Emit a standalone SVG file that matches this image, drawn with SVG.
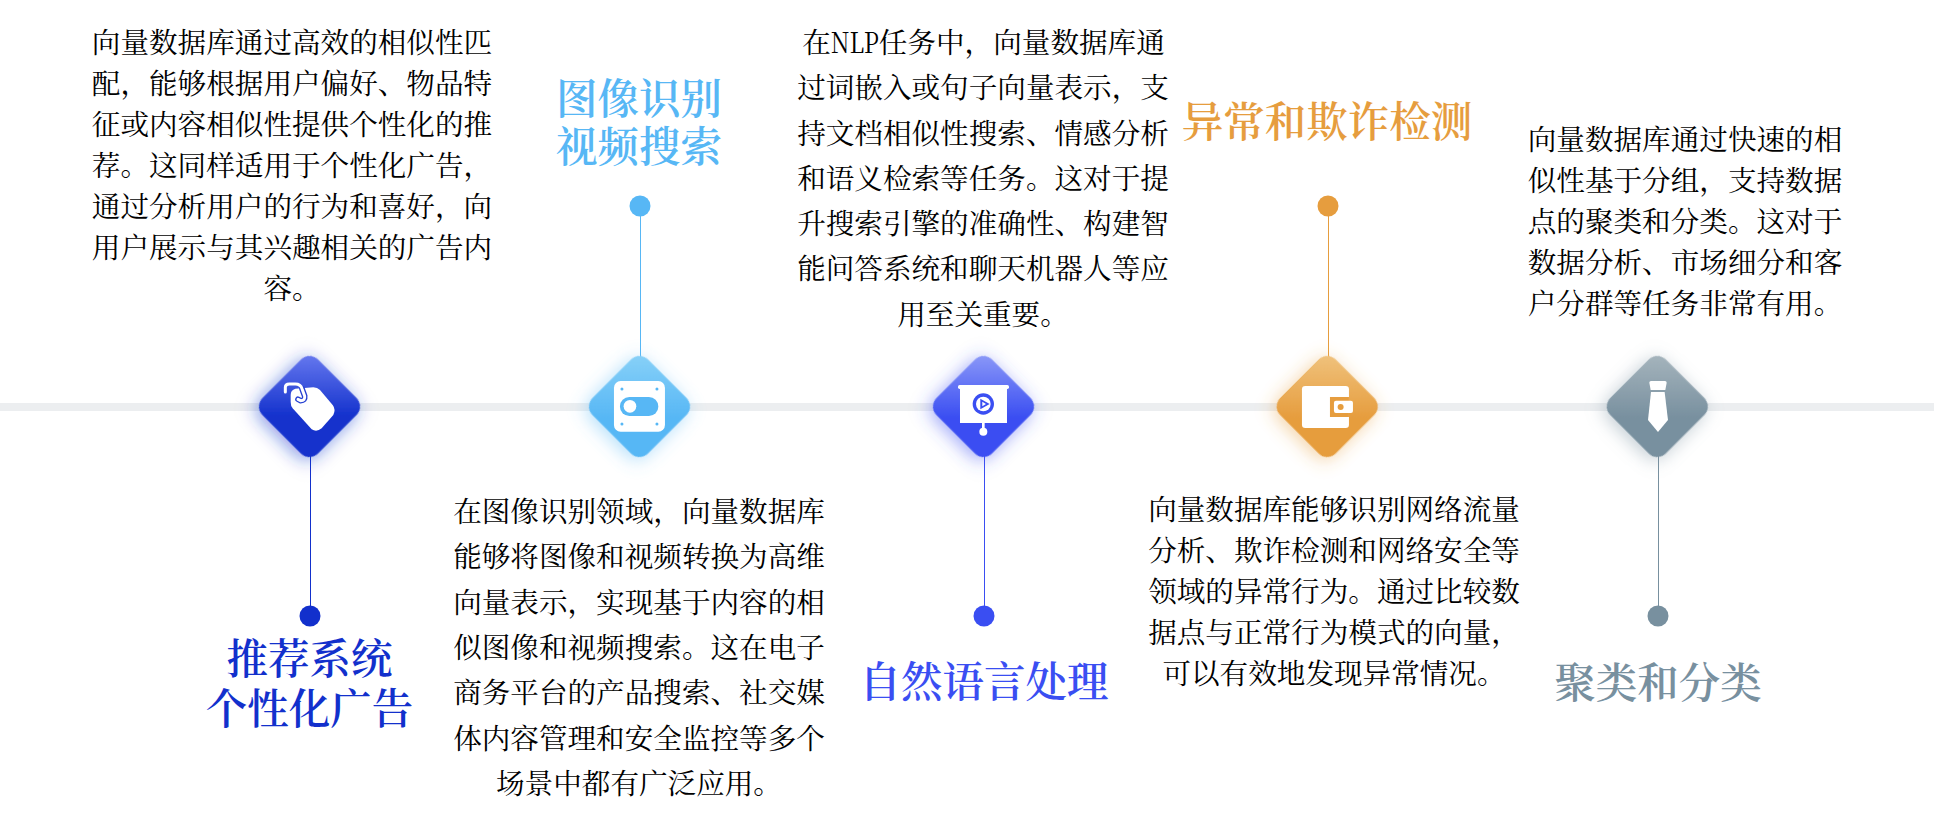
<svg xmlns="http://www.w3.org/2000/svg" width="1934" height="816" viewBox="0 0 1934 816">
<style>
.b{font-family:"Noto Serif CJK SC","Source Han Serif SC","Liberation Serif","Noto Sans CJK SC",serif;font-size:28.6px;text-anchor:middle;fill:#000}
.t{font-family:"Noto Serif CJK SC","Source Han Serif SC","Liberation Serif","Noto Sans CJK SC",serif;font-size:41.5px;font-weight:600;text-anchor:middle}
.w{fill:#fff}
.c1{fill:#1230cc}.c2{fill:#57b7f5}.c3{fill:#3a4ef2}.c4{fill:#e69d3e}.c5{fill:#78909f}
.l{stroke-width:1;fill:none}
</style>
<defs>
<linearGradient id="g1" x1="0" y1="0" x2="1" y2="1"><stop offset="0" stop-color="#6a7cf0"/><stop offset=".6" stop-color="#1230cc"/></linearGradient>
<linearGradient id="g2" x1="0" y1="0" x2="1" y2="1"><stop offset="0" stop-color="#8ad2f8"/><stop offset=".6" stop-color="#57b7f5"/></linearGradient>
<linearGradient id="g3" x1="0" y1="0" x2="1" y2="1"><stop offset="0" stop-color="#8f9cf8"/><stop offset=".6" stop-color="#3a4ef2"/></linearGradient>
<linearGradient id="g4" x1="0" y1="0" x2="1" y2="1"><stop offset="0" stop-color="#f0c480"/><stop offset=".6" stop-color="#e69d3e"/></linearGradient>
<linearGradient id="g5" x1="0" y1="0" x2="1" y2="1"><stop offset="0" stop-color="#a8b6be"/><stop offset=".6" stop-color="#78909f"/></linearGradient>
<filter id="f1" x="-60%" y="-60%" width="220%" height="220%"><feDropShadow dx="0" dy="4" stdDeviation="9" flood-color="#1230cc" flood-opacity=".5"/></filter>
<filter id="f2" x="-60%" y="-60%" width="220%" height="220%"><feDropShadow dx="0" dy="4" stdDeviation="9" flood-color="#57b7f5" flood-opacity=".45"/></filter>
<filter id="f3" x="-60%" y="-60%" width="220%" height="220%"><feDropShadow dx="0" dy="4" stdDeviation="9" flood-color="#3a4ef2" flood-opacity=".5"/></filter>
<filter id="f4" x="-60%" y="-60%" width="220%" height="220%"><feDropShadow dx="0" dy="4" stdDeviation="9" flood-color="#e69d3e" flood-opacity=".45"/></filter>
<filter id="f5" x="-60%" y="-60%" width="220%" height="220%"><feDropShadow dx="0" dy="4" stdDeviation="9" flood-color="#78909f" flood-opacity=".45"/></filter>
</defs>
<rect width="1934" height="816" fill="#fff"/>
<g id="connectors">
<rect x="0" y="403" width="1934" height="8" fill="#eceef0"/>
<line class="l" x1="310.5" y1="450" x2="310.5" y2="615" stroke="#1230cc"/>
<line class="l" x1="640.5" y1="206" x2="640.5" y2="362" stroke="#57b7f5"/>
<line class="l" x1="984.5" y1="450" x2="984.5" y2="615" stroke="#3a4ef2"/>
<line class="l" x1="1328.5" y1="206" x2="1328.5" y2="362" stroke="#e69d3e"/>
<line class="l" x1="1658.5" y1="450" x2="1658.5" y2="615" stroke="#78909f"/>
</g>
<g id="node-1">
<rect x="270.3" y="367.3" width="78.4" height="78.4" rx="12" fill="url(#g1)" filter="url(#f1)" transform="rotate(45 309.5 406.5)"/>
<g transform="translate(270 370) scale(.3333)">
<path class="w" d="M62 95L62 75Q62 60 76 56L130 52Q142 52 150 60L188 105Q198 118 190 135L155 175Q140 188 125 178L68 115Q62 108 62 95Z"/>
<path d="M96 56L104 78Q106 92 92 92L84 88" stroke="#2540d2" stroke-width="17" stroke-linecap="round" fill="none"/>
<path d="M46 66V52Q46 42 58 42H76Q92 42 96 56L104 78Q106 92 92 92L84 88" stroke="#fff" stroke-width="9" stroke-linecap="round" fill="none"/>
</g>
<circle class="c1" cx="310" cy="616" r="10.5"/>
<text class="t c1"><tspan x="309.5" y="674">推荐系统</tspan><tspan x="309.5" y="724">个性化广告</tspan></text>
<text class="b"><tspan x="292" y="53">向量数据库通过高效的相似性匹</tspan><tspan x="292" y="94">配，能够根据用户偏好、物品特</tspan><tspan x="292" y="135">征或内容相似性提供个性化的推</tspan><tspan x="292" y="176">荐。这同样适用于个性化广告，</tspan><tspan x="292" y="217">通过分析用户的行为和喜好，向</tspan><tspan x="292" y="258">用户展示与其兴趣相关的广告内</tspan><tspan x="292" y="299">容。</tspan></text>
</g>
<g id="node-2">
<rect x="600.3" y="367.3" width="78.4" height="78.4" rx="12" fill="url(#g2)" filter="url(#f2)" transform="rotate(45 639.5 406.5)"/>
<g transform="translate(230 330) scale(.3333)">
<rect class="w" x="1152" y="153" width="153" height="152" rx="20"/>
<g class="c2"><circle cx="1176" cy="177" r="4.5"/><circle cx="1281" cy="177" r="4.5"/><circle cx="1176" cy="282" r="4.5"/><circle cx="1281" cy="282" r="4.5"/><rect x="1170" y="201" width="115" height="57" rx="28"/></g>
<circle class="w" cx="1200" cy="229" r="19"/>
</g>
<circle class="c2" cx="640" cy="206" r="10.5"/>
<text class="t c2"><tspan x="639" y="114">图像识别</tspan><tspan x="639" y="162">视频搜索</tspan></text>
<text class="b"><tspan x="639" y="522">在图像识别领域，向量数据库</tspan><tspan x="639" y="567">能够将图像和视频转换为高维</tspan><tspan x="639" y="613">向量表示，实现基于内容的相</tspan><tspan x="639" y="658">似图像和视频搜索。这在电子</tspan><tspan x="639" y="703">商务平台的产品搜索、社交媒</tspan><tspan x="639" y="749">体内容管理和安全监控等多个</tspan><tspan x="639" y="794">场景中都有广泛应用。</tspan></text>
</g>
<g id="node-3">
<rect x="944.3" y="367.3" width="78.4" height="78.4" rx="12" fill="url(#g3)" filter="url(#f3)" transform="rotate(45 983.5 406.5)"/>
<g transform="translate(900 330) scale(.3333)">
<rect class="w" x="174" y="165" width="153" height="12" rx="5"/>
<rect class="w" x="180" y="170" width="141" height="109"/>
<rect class="w" x="246" y="279" width="8" height="24"/>
<circle class="w" cx="250" cy="305" r="12"/>
<circle class="c3" cx="250" cy="222" r="32"/>
<circle class="w" cx="250" cy="222" r="22"/>
<path class="c3" d="M241 206L269 222L241 238Z"/>
<path class="w" d="M247 215L258 222L247 229Z"/>
</g>
<circle class="c3" cx="984" cy="616" r="10.5"/>
<text class="t c3"><tspan x="984" y="697">自然语言处理</tspan></text>
<text class="b"><tspan x="983.5" y="53">在<tspan textLength="48" lengthAdjust="spacingAndGlyphs">NLP</tspan>任务中，向量数据库通</tspan><tspan x="983" y="98">过词嵌入或句子向量表示，支</tspan><tspan x="983" y="144">持文档相似性搜索、情感分析</tspan><tspan x="983" y="189">和语义检索等任务。这对于提</tspan><tspan x="983" y="234">升搜索引擎的准确性、构建智</tspan><tspan x="983" y="279">能问答系统和聊天机器人等应</tspan><tspan x="983" y="325">用至关重要。</tspan></text>
</g>
<g id="node-4">
<rect x="1288" y="367.3" width="78.4" height="78.4" rx="12" fill="url(#g4)" filter="url(#f4)" transform="rotate(45 1327.2 406.5)"/>
<g transform="translate(900 330) scale(.3333)">
<rect class="w" x="1206" y="168" width="141" height="126" rx="10"/>
<rect class="c4" x="1290" y="201" width="57" height="60"/>
<rect class="w" x="1302" y="212" width="57" height="37" rx="6"/>
<circle class="c4" cx="1322" cy="231" r="9"/>
</g>
<circle class="c4" cx="1328" cy="206" r="10.5"/>
<text class="t c4"><tspan x="1327" y="137">异常和欺诈检测</tspan></text>
<text class="b"><tspan x="1334" y="520">向量数据库能够识别网络流量</tspan><tspan x="1334" y="561">分析、欺诈检测和网络安全等</tspan><tspan x="1334" y="602">领域的异常行为。通过比较数</tspan><tspan x="1334" y="643">据点与正常行为模式的向量，</tspan><tspan x="1334" y="684">可以有效地发现异常情况。</tspan></text>
</g>
<g id="node-5">
<rect x="1618.1" y="367.3" width="78.4" height="78.4" rx="12" fill="url(#g5)" filter="url(#f5)" transform="rotate(45 1657.3 406.5)"/>
<g transform="translate(1560 330) scale(.3333)">
<path class="w" d="M268 158Q268 153 273 153H315Q320 153 320 158L316 180H272Z"/>
<path class="w" d="M273 186H314L324 270L294 306L264 270Z"/>
</g>
<circle class="c5" cx="1658" cy="616" r="10.5"/>
<text class="t c5"><tspan x="1658" y="698">聚类和分类</tspan></text>
<text class="b"><tspan x="1685" y="150">向量数据库通过快速的相</tspan><tspan x="1685" y="191">似性基于分组，支持数据</tspan><tspan x="1685" y="232">点的聚类和分类。这对于</tspan><tspan x="1685" y="273">数据分析、市场细分和客</tspan><tspan x="1685" y="314">户分群等任务非常有用。</tspan></text>
</g>
</svg>
